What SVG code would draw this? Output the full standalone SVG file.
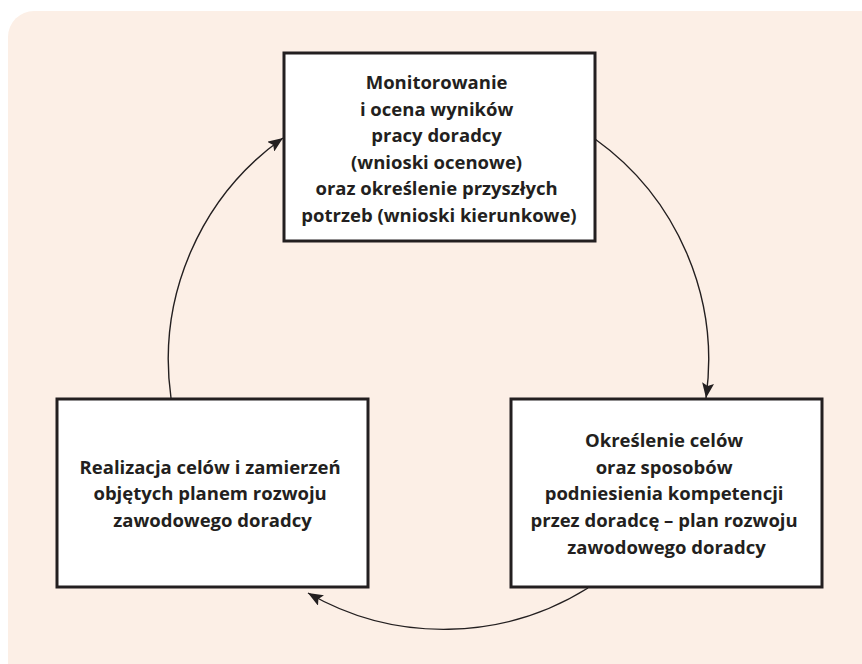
<svg xmlns="http://www.w3.org/2000/svg" width="862" height="664" viewBox="0 0 862 664">
  <style>
    .box { fill: #ffffff; stroke: #231f20; stroke-width: 3; }
    .label { font-family: "Open Sans", "Liberation Sans", sans-serif; font-weight: 700; font-size: 18.5px; fill: #231f20; text-anchor: middle; }
    .flow { fill: none; stroke: #231f20; stroke-width: 1.4; marker-end: url(#head); }
  </style>
  <defs>
    <marker id="head" markerUnits="userSpaceOnUse" markerWidth="16" markerHeight="12" refX="15" refY="6" orient="auto">
      <path d="M0,0 L15,6 L0,12 L3,6 Z" fill="#231f20"/>
    </marker>
  </defs>

  <!-- panel -->
  <rect x="8" y="11" width="880" height="680" rx="26" fill="#fcefe6"/>

  <!-- cycle connectors -->
  <g id="connectors">
    <path class="flow" d="M595,139 A272,272 0 0 1 706,398"/>
    <path class="flow" d="M588,588 A272,272 0 0 1 308,593"/>
    <path class="flow" d="M171,398 A272,272 0 0 1 283,138"/>
  </g>

  <g id="node-monitoring">
    <rect class="box" x="284" y="53" width="311" height="188"/>
    <text class="label">
      <tspan x="439" y="89">Monitorowanie</tspan>
      <tspan x="439" y="116">i ocena wyników</tspan>
      <tspan x="439" y="142">pracy doradcy</tspan>
      <tspan x="439" y="169">(wnioski ocenowe)</tspan>
      <tspan x="439" y="195">oraz określenie przyszłych</tspan>
      <tspan x="439" y="222">potrzeb (wnioski kierunkowe)</tspan>
    </text>
  </g>

  <g id="node-planning">
    <rect class="box" x="511" y="399" width="311" height="188"/>
    <text class="label">
      <tspan x="666.5" y="447">Określenie celów</tspan>
      <tspan x="666.5" y="474">oraz sposobów</tspan>
      <tspan x="666.5" y="500">podniesienia kompetencji</tspan>
      <tspan x="666.5" y="527">przez doradcę – plan rozwoju</tspan>
      <tspan x="666.5" y="554">zawodowego doradcy</tspan>
    </text>
  </g>

  <g id="node-realization">
    <rect class="box" x="57" y="399" width="311" height="188"/>
    <text class="label">
      <tspan x="212.5" y="474">Realizacja celów i zamierzeń</tspan>
      <tspan x="212.5" y="500">objętych planem rozwoju</tspan>
      <tspan x="212.5" y="527">zawodowego doradcy</tspan>
    </text>
  </g>
</svg>
